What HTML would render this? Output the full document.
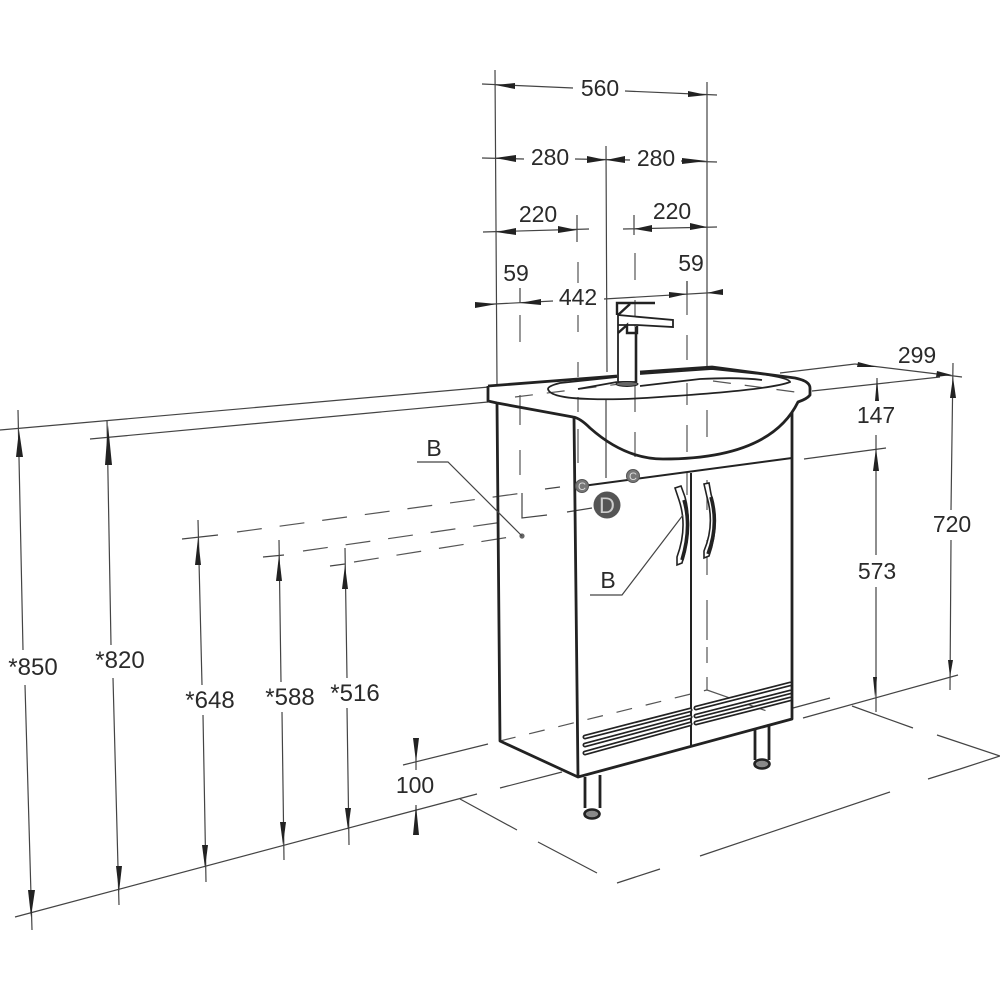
<!DOCTYPE html>
<html><head><meta charset="utf-8"><style>
html,body{margin:0;padding:0;background:#fff}
svg{display:block}
text{font-family:"Liberation Sans",sans-serif;font-size:23px;fill:#2a2a2a;text-anchor:middle}
text.w{font-size:24px}
.t{stroke:#444;stroke-width:1.2;fill:none}
.d{stroke:#555;stroke-width:1.2;fill:none;stroke-dasharray:25 18}
.k{stroke:#222;stroke-width:2.8;fill:none;stroke-linejoin:round}
.m{stroke:#222;stroke-width:1.8;fill:none}
polygon.a{fill:#222}
</style></head><body>
<svg width="1000" height="1000" viewBox="0 0 1000 1000" xmlns="http://www.w3.org/2000/svg">
<rect width="1000" height="1000" fill="#fff"/>
<!-- wall & floor lines -->
<path class="t" d="M0 430L489 387M90 439L488 402M780 373L855 364M812 391L940 377M403 765L488 744M390 817L477 794M500 788L562 772M793 708L830 698M803 718L958 675M804 459L886 448"/>
<path class="t" d="M15 917L390 817M460 799L517 830M538 842L597 873M617 883L660 869M700 856L890 792M928 779L960 769M960 769L1000 756M852 706L913 728M937 735L1000 756"/>
<!-- basin fill -->
<path fill="#fff" stroke="none" d="M488 386L712 367L803 380L810 386V396L795 403L792 420L663 459L573 417L497 403L488 401Z"/>
<!-- hidden dashes -->
<path class="t" d="M182 539L218 535M263 557L284 555M330 566L345 564"/>
<path class="d" d="M237 532L523 493"/>
<path class="d" d="M303 551L503 522"/>
<path class="d" d="M354 562L510 537"/>
<path class="t" d="M522 493V518L547 515M567 512L592 508M545 489L560 487"/>
<path class="d" style="stroke-dasharray:16 14" d="M500 741L707 690"/>
<path class="d" style="stroke-dasharray:24 14" d="M707 690L778 715"/>
<path class="t" style="stroke:#555" d="M707 410V437M707 480V510M707 540V575M707 600V640M707 647V663M707 677V690
M520 315V342M520 395V425M520 450V475
M578 262V283M578 315V332M578 362V377M578 397V412M578 429V463
M635 253V280M635 300V345M635 383V412M635 432V457
M687 281V315M687 335V360M687 383V405M687 425V452M687 473V495"/>
<path class="d" style="stroke-dasharray:18 14" d="M515 397L620 384M713 381L795 392"/>
<!-- vertical reference solids -->
<path class="t" d="M495 70L497 385M707 82V368M606 146L607 372M606 400V478M520 288V303M577 215V242M634 215V235M687 281V295"/>
<!-- basin -->
<path class="k" d="M488 386L617 376M640 372L712 367L795 378Q810 381 810 388V395Q807 399 798 402Q770 459 663 459Q625 459 590 428Q580 418 573 417L497 403L488 401L488 386"/>
<path class="m" d="M617 377L560 383Q548 386 548 389Q550 398 590 399Q620 400 660 397Q770 390 790 382Q790 378 760 374L712 369L640 374"/>
<path class="m" d="M640 386L700 379Q740 377 762 380M578 389L617 382"/>
<!-- cabinet -->
<path class="k" d="M497 403L500 741L578 777L792 719V412M574 417L578 777"/>
<path class="k" style="stroke-width:2" d="M575 487L792 458M691 473V746"/>
<!-- grooves -->
<g fill="none" stroke-linecap="round">
<path stroke="#222" stroke-width="5" d="M585 737L690 710M585 745L690 717M585 753L690 724M696 708L790 684M696 716L790 692M696 723L790 699"/>
<path stroke="#fff" stroke-width="1.6" d="M585 737L690 710M585 745L690 717M585 753L690 724M696 708L790 684M696 716L790 692M696 723L790 699"/>
</g>
<!-- legs -->
<path class="k" d="M585 777V808M600 775V808M755 728V760M769 724V760"/>
<ellipse cx="592" cy="814" rx="7.5" ry="4.5" fill="#888" stroke="#222" stroke-width="2.6"/>
<ellipse cx="762" cy="764" rx="7.5" ry="4.5" fill="#888" stroke="#222" stroke-width="2.6"/>
<!-- handles -->
<path fill="#fff" stroke="#222" stroke-width="1.6" d="M675 488L681 486L685 497Q693 527 682 563L677 565L677 557Q688 527 679 500Z"/>
<path fill="none" stroke="#222" stroke-width="3.6" d="M684 500Q692 527 682 560"/>
<path fill="#fff" stroke="#222" stroke-width="1.6" d="M704 484L709 483L711 494Q720 525 709 556L704 558L704 551Q715 525 707 497Z"/>
<path fill="none" stroke="#222" stroke-width="3.6" d="M711 497Q719 525 708 554"/>
<!-- faucet -->
<path fill="#fff" stroke="#222" stroke-width="1.8" d="M618 325L627 325H637L673 327V320L618 315L618 382H636V327"/>
<path fill="none" stroke="#222" stroke-width="2.4" d="M617 315V303H655M618 315L630 304M618 333L627 325V333H637V326"/>
<path fill="none" stroke="#222" stroke-width="2.6" d="M636 327V382"/>
<ellipse cx="627" cy="384" rx="11" ry="2.5" fill="#666" stroke="#222"/>
<!-- circles -->
<circle cx="582" cy="486" r="6.5" fill="#777" stroke="#555"/>
<circle cx="633" cy="476" r="6.5" fill="#777" stroke="#555"/>
<text x="582" y="490" style="font-size:11px;fill:#ddd">C</text>
<text x="633" y="480" style="font-size:11px;fill:#ddd">C</text>
<circle cx="607" cy="505" r="13.5" fill="#555"/>
<text x="607" y="513" style="font-size:22px;fill:#ccc">D</text>
<!-- leaders -->
<circle cx="522" cy="536" r="2.6" fill="#666"/>
<path class="t" d="M417 462H448L522 536M590 595H622L683 515"/>
<!-- dim lines -->
<path class="t" d="M482 84L573 88M625 91L717 95M482 158L524 159M575 159L630 160M681 161L717 162M483 232L589 229M623 229L717 227M475 305L553 301M604 299L723 292M855 364L962 377"/>
<path class="t" d="M18 410L23 650M25 685L32 930M107 420L111 645M113 678L119 905M198 520L202 685M203 715L206 882M279 540L281 682M282 712L284 860M345 548L347 678M347 708L349 845M416 738V770M416 805V835M877 378V400M876 435V555M876 587V712M953 363L951 510M951 540L950 690"/>
<!-- arrows -->
<g>
<polygon class="a" points="495,85 515,83 515,89"/><polygon class="a" points="707,95 688,91 688,97"/>
<polygon class="a" points="495,158 516,155 516,162"/><polygon class="a" points="606,160 587,156 587,163"/><polygon class="a" points="606,160 625,156 625,163"/><polygon class="a" points="707,161 682,158 682,164"/>
<polygon class="a" points="496,232 516,228 516,235"/><polygon class="a" points="577,230 558,226 558,233"/><polygon class="a" points="634,229 652,225 652,232"/><polygon class="a" points="707,227 690,223 690,230"/>
<polygon class="a" points="497,304 475,302 475,308"/><polygon class="a" points="520,303 541,299 541,305"/><polygon class="a" points="687,294 669,292 669,298"/><polygon class="a" points="707,293 723,289 723,295"/>
<polygon class="a" points="877,367 858,362 857,367"/><polygon class="a" points="952,375 937,371 936,377"/>
<polygon class="a" points="19,430 16,457 23,457"/><polygon class="a" points="31,917 28,890 35,890"/>
<polygon class="a" points="108,425 105,465 112,465"/><polygon class="a" points="119,892 116,866 122,866"/>
<polygon class="a" points="198,538 195,565 201,565"/><polygon class="a" points="205,868 202,845 208,845"/>
<polygon class="a" points="279,555 276,581 282,581"/><polygon class="a" points="283,845 280,822 286,822"/>
<polygon class="a" points="345,565 342,589 348,589"/><polygon class="a" points="348,830 345,808 351,808"/>
<polygon class="a" points="416,762 413,738 419,738"/><polygon class="a" points="416,805 413,835 419,835"/>
<polygon class="a" points="877,378 875,401 879,401"/><polygon class="a" points="876,448 873,471 879,471"/><polygon class="a" points="875,697 873,677 877,677"/>
<polygon class="a" points="953,377 950,398 956,398"/><polygon class="a" points="950,677 948,660 953,660"/>
</g>
<!-- labels -->
<text x="600" y="96">560</text>
<text x="550" y="165">280</text>
<text x="656" y="166">280</text>
<text x="538" y="222">220</text>
<text x="672" y="219">220</text>
<text x="516" y="281">59</text>
<text x="691" y="271">59</text>
<text x="578" y="305">442</text>
<text x="917" y="363">299</text>
<text x="876" y="423">147</text>
<text x="877" y="579">573</text>
<text x="952" y="532">720</text>
<text class="w" x="33" y="675">*850</text>
<text class="w" x="120" y="668">*820</text>
<text class="w" x="210" y="708">*648</text>
<text class="w" x="290" y="705">*588</text>
<text class="w" x="355" y="701">*516</text>
<text x="415" y="793">100</text>
<text x="434" y="456">B</text>
<text x="608" y="588">B</text>
</svg>
</body></html>
